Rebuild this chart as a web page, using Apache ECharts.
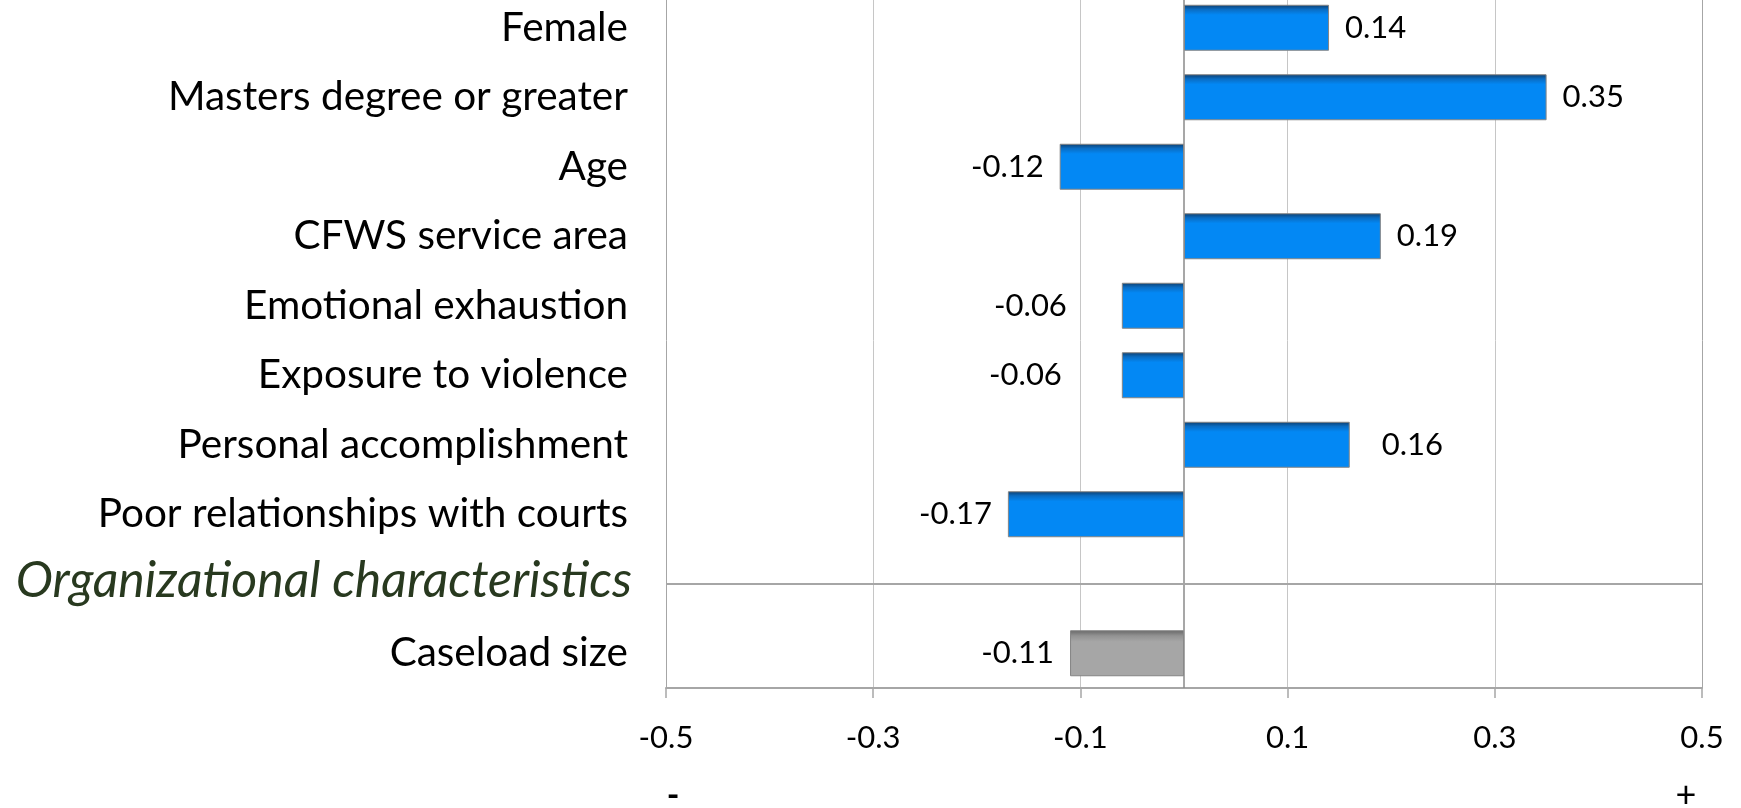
<!DOCTYPE html>
<html>
<head>
<meta charset="utf-8">
<script src="https://cdn.jsdelivr.net/npm/echarts@6/dist/echarts.min.js"></script>
<style>
  html, body { margin: 0; padding: 0; background: #fff; overflow: hidden; }
  /* the plot runs a few pixels past the top edge of the page */
  #chart { position: relative; top: -7px; width: 1741px; height: 815px; }
</style>
</head>
<body>
<div id="chart"></div>
<script>
// Predictors, listed top to bottom
const categories = [
  'Female',
  'Masters degree or greater',
  'Age',
  'CFWS service area',
  'Emotional exhaustion',
  'Exposure to violence',
  'Personal accomplishment',
  'Poor relationships with courts',
  'Organizational characteristics',
  'Caseload size'
];
// Coefficients (null = section heading row)
const coefficients = [0.14, 0.35, -0.12, 0.19, -0.06, -0.06, 0.16, -0.17, null, -0.11];
// Section heading row and the rows that belong to the organizational group
const sectionHeading = 'Organizational characteristics';
const organizationalRows = ['Caseload size'];
// Value-axis ticks
const axisMin = -0.5;
const axisMax = 0.5;
const axisStep = 0.2;
const directionLabels = ['-', '+'];

const FONT = 'Lato, "Open Sans", sans-serif';

// Extra gap between some bars and their value labels
const labelDistance = {
  'Emotional exhaustion': 55,
  'Exposure to violence': 60,
  'Personal accomplishment': 32
};

const blueFill = new echarts.graphic.LinearGradient(0, 0, 0, 1, [
  { offset: 0, color: '#0d3d6c' },
  { offset: 0.1, color: '#0a6cc2' },
  { offset: 0.22, color: '#0388f4' },
  { offset: 1, color: '#0388f4' }
]);
const grayFill = new echarts.graphic.LinearGradient(0, 0, 0, 1, [
  { offset: 0, color: '#666666' },
  { offset: 0.12, color: '#929292' },
  { offset: 0.25, color: '#a6a6a6' },
  { offset: 1, color: '#a6a6a6' }
]);

const barData = categories.map((cat, i) => {
  const v = coefficients[i];
  if (v === null) return '-';
  const org = organizationalRows.includes(cat);
  return {
    value: v,
    itemStyle: { color: org ? grayFill : blueFill },
    label: {
      position: v >= 0 ? 'right' : 'left',
      distance: labelDistance[cat] || 16
    }
  };
});

const chart = echarts.init(document.getElementById('chart'), null, { renderer: 'canvas' });

chart.setOption({
  animation: false,
  backgroundColor: '#ffffff',
  grid: { left: 666, right: 39, top: 0, bottom: 120, containLabel: false },
  xAxis: {
    type: 'value',
    min: axisMin,
    max: axisMax,
    interval: axisStep,
    axisLine: { show: true, lineStyle: { color: '#a6a6a6', width: 2 } },
    axisTick: { show: true, length: 10, lineStyle: { color: '#a6a6a6', width: 1.5 } },
    axisLabel: {
      margin: 34,
      fontFamily: FONT,
      fontSize: 31,
      color: '#000',
      formatter: v => v.toFixed(1)
    },
    splitLine: {
      show: true,
      lineStyle: { color: ['#a6a6a6', '#c6c6c6', '#c6c6c6', '#c6c6c6', '#c6c6c6', '#a6a6a6'], width: 1 }
    }
  },
  yAxis: {
    type: 'category',
    data: categories,
    inverse: true,
    axisLine: { show: false },
    axisTick: { show: false },
    splitLine: { show: false },
    axisLabel: {
      margin: 38,
      fontFamily: FONT,
      fontSize: 40.5,
      color: '#000',
      formatter: v => (v === sectionHeading ? '{head|' + v + '}' : v),
      rich: {
        head: {
          fontFamily: FONT,
          fontStyle: 'italic',
          fontSize: 50,
          color: '#28391f',
          padding: [0, -4, 6, 0]
        }
      }
    }
  },
  series: [
    {
      type: 'bar',
      data: barData,
      barWidth: 46,
      itemStyle: { borderColor: '#858585', borderWidth: 1 },
      label: {
        show: true,
        fontFamily: FONT,
        fontSize: 31,
        color: '#000',
        formatter: p => p.value.toFixed(2)
      },
      markLine: {
        silent: true,
        symbol: 'none',
        label: { show: false },
        data: [
          { xAxis: 0, lineStyle: { color: '#8a8a8a', width: 1.5, type: 'solid' } },
          { yAxis: sectionHeading, lineStyle: { color: '#a6a6a6', width: 2, type: 'solid' } }
        ]
      }
    }
  ],
  graphic: [
    {
      type: 'text', x: 673, y: 803,
      style: {
        text: directionLabels[0], font: 'bold 34px ' + FONT, fill: '#000',
        align: 'center', verticalAlign: 'middle'
      }
    },
    {
      type: 'text', x: 1686, y: 802,
      style: {
        text: directionLabels[1], font: '36px ' + FONT, fill: '#000',
        align: 'center', verticalAlign: 'middle'
      }
    }
  ]
});
</script>
</body>
</html>
